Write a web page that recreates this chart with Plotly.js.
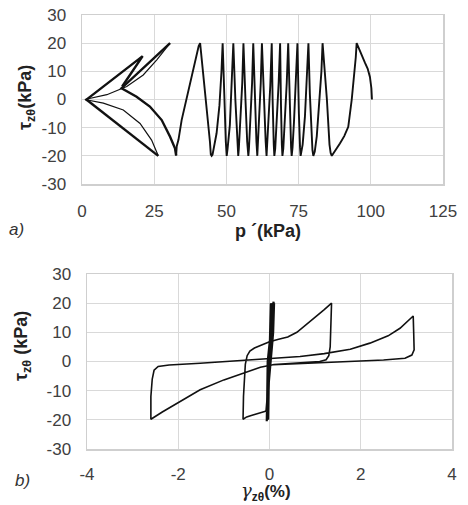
<!DOCTYPE html>
<html>
<head>
<meta charset="utf-8">
<script src="https://cdn.plot.ly/plotly-3.0.1.min.js"></script>
<style>html,body{margin:0;padding:0;background:#fff;}#chart{width:468px;height:505px;}</style>
</head>
<body>
<div id="chart"></div>
<script>
// ---------- Panel a) stress path: p' (kPa) vs tau_ztheta (kPa) ----------
// cyclic phase (p' decreasing cycle by cycle)
const cyclicP = [100.4,100.2,99.7,98.9,98.0,97.0,96.1,95.1,
  94.8,94.2,93.4,92.2,90.8,89.3,87.6,86.8,86.5,
  86.1,85.7,84.8,84.0,83.3,
  82.9,82.2,81.3,80.6,80.1,
  79.8,79.4,78.9,78.4,
  77.9,77.2,76.4,75.9,75.7,
  75.5,75.1,74.6,
  74.1,73.4,72.9,72.6,
  72.4,71.9,71.4,
  70.9,70.2,69.7,69.4,
  69.2,68.9,68.6,
  68.1,67.4,66.9,66.6,
  66.4,66.0,65.7,
  65.2,64.6,64.1,63.9,
  63.6,63.0,62.3,
  61.9,61.3,60.9,60.7,
  60.4,59.9,59.3,
  58.9,58.3,57.8,57.6,
  57.2,56.6,55.9,
  55.5,54.9,54.3,54.1,
  53.8,53.1,52.4,
  51.9,51.2,50.4,50.1,
  49.8,49.3,48.7,
  48.3,47.6,46.6,45.6,45.2,44.9,44.6,
  44.3,43.4,42.5,41.6,40.9,
  40.4,37.4,34.5,33.4,32.8,32.6];
const cyclicTau = [0,4,8,11,13,15.5,18,20,
  15,8,0,-9.7,-13,-15.6,-18.5,-19.6,-20,
  -19,-16,0,12,20,
  10,-2,-13,-18.5,-20,
  -18,-10,2,20,
  8,-6,-16,-19.3,-20,
  -17,-5,20,
  6,-8,-17,-20,
  -17,-2,20,
  6,-9,-17.5,-20,
  -16,-2,20,
  6,-9,-17.5,-20,
  -16,0,20,
  5,-9,-17.5,-20,
  -15,0,20,
  6,-9,-17.5,-20,
  -15,0,20,
  6,-9,-17.5,-20,
  -15,0,20,
  6,-9,-17.5,-20,
  -15,0,20,
  6,-9,-17.5,-20,
  -15,0,20,
  10,-2,-12,-18,-19.6,-20,-19.5,
  -15,-5,5,15,20,
  19,5.7,-7.3,-14.3,-16.6,-19.9];
// liquefaction phase: thick (load) segments, null separates strokes
const liqThickP = [32.6,32.2,30.5,27.6,23.5,18.9,13.7,22.0,30.5,null,
  1.5,26.4,null, 1.2,21.0,13.9];
const liqThickTau = [-19.9,-17.3,-13.2,-7.3,-2.5,1.0,4.0,12.0,20.0,null,
  0,-20,null, -0.3,15.4,4.6];
// liquefaction phase: thin (unload) curves
const liqThinP = [30.5,25.9,21.2,15.5,8.6,2.2,1.0,null,
  26.4,24.1,20.1,14.3,7.4,2.2,1.0];
const liqThinTau = [20,14.1,8.7,4.6,1.7,0.1,0,null,
  -20,-14.4,-8.5,-3.7,-1.3,-0.4,0];

// ---------- Panel b) gamma_ztheta (%) vs tau_ztheta (kPa) ----------
const smallGamma = [0.00,0.02,0.03,0.02,-0.02,-0.03,-0.02,0.02,0.05,0.03,-0.03,-0.05,-0.04,0.03,0.06,0.09,0.07,-0.02,-0.05,-0.06,-0.05,-0.04,0.00,0.04,0.10,0.08,0.00,-0.05,-0.07];
const smallTau   = [0,10,20,10,-10,-20,-10,10,20,8,-10,-20,-8,8,18,20.5,8,-8,-16,-20.5,-12,0,6,12,20,10,-6,-14,-17];
const loopGamma = [-0.07,-0.2,-0.3,-0.4,-0.5,-0.58,
  -0.57,-0.55,-0.53,-0.49,-0.43,-0.33,-0.2,0.0,0.2,0.4,0.6,0.8,1.0,1.2,1.36,
  1.35,1.33,1.3,1.24,1.1,0.8,0.4,0.1,
  -0.2,-0.57,-1.0,-1.52,-2.03,-2.35,-2.6,
  -2.6,-2.57,-2.53,-2.44,-2.2,-1.52,-0.43,0.08,0.67,1.2,1.77,2.2,2.6,2.86,3.15,
  3.16,3.17,3.12,2.97,2.5,1.77,1.2,0.67,0.08];
const loopTau = [-17,-17.5,-18,-18.5,-19,-19.8,
  -12,-5,-1,2,3.6,4.6,5.5,6.8,7.6,8.4,10,12.5,15,17.8,20,
  12,5,2,0.6,0,-0.3,-0.6,-1,
  -2,-4,-6.3,-9.7,-14.3,-17.3,-19.8,
  -12,-6,-3,-1.7,-1.2,-0.6,0.5,1.1,1.7,2.7,4.2,6.3,8.8,11.4,15.6,
  10,4,2.2,1.1,0.5,0,-0.3,-0.6,-1.1];

// ---------- axes ticks ----------
const tauTickVals = [-30,-20,-10,0,10,20,30];
const tauTickText = ['-30','-20','-10','0','10','20','30'];
const pTickVals = [0,25,50,75,100,125];
const pTickText = ['0','25','50','75','100','125'];
const gTickVals = [-4,-2,0,2,4];
const gTickText = ['-4','-2','0','2','4'];

const W = 468, H = 505;
const px = v => v / W, py = v => 1 - v / H;
const ink = '#111111';
const tickFont = {family: 'Liberation Sans, Arial, sans-serif', size: 17, color: '#404040'};
const gridC = '#d9d9d9';

function ax(extra) {
  return Object.assign({
    showgrid: true, gridcolor: gridC, gridwidth: 1,
    zeroline: false, showline: true, mirror: true, linecolor: '#cfcfcf', linewidth: 1.5,
    ticks: '', tickfont: tickFont, tickmode: 'array', ticklabelstandoff: 11,
    fixedrange: true
  }, extra);
}

const traces = [
  {x: cyclicP, y: cyclicTau, xaxis: 'x', yaxis: 'y', mode: 'lines', line: {color: ink, width: 1.9}},
  {x: liqThickP, y: liqThickTau, xaxis: 'x', yaxis: 'y', mode: 'lines', line: {color: ink, width: 2.4}},
  {x: liqThinP, y: liqThinTau, xaxis: 'x', yaxis: 'y', mode: 'lines', line: {color: ink, width: 1.2}},
  {x: smallGamma, y: smallTau, xaxis: 'x2', yaxis: 'y2', mode: 'lines', line: {color: ink, width: 2.2}},
  {x: loopGamma, y: loopTau, xaxis: 'x2', yaxis: 'y2', mode: 'lines', line: {color: ink, width: 1.6}}
];

const titleFont = {family: 'Liberation Sans, Arial, sans-serif', size: 18, color: '#222'};
const layout = {
  width: W, height: H, showlegend: false,
  margin: {l: 0, r: 0, t: 0, b: 0},
  paper_bgcolor: '#fff', plot_bgcolor: '#fff',
  xaxis: ax({domain: [px(82), px(443)], range: [0, 125], anchor: 'y', tickvals: pTickVals, ticktext: pTickText}),
  yaxis: ax({domain: [py(184), py(15)], range: [-30, 30], anchor: 'x', tickvals: tauTickVals, ticktext: tauTickText}),
  xaxis2: ax({domain: [px(87), px(452)], range: [-4, 4], anchor: 'y2', tickvals: gTickVals, ticktext: gTickText, ticklabelstandoff: 9}),
  yaxis2: ax({domain: [py(449), py(274)], range: [-30, 30], anchor: 'x2', tickvals: tauTickVals, ticktext: tauTickText}),
  annotations: [
    {xref: 'paper', yref: 'paper', x: px(268), y: py(231), text: '<b>p ´(kPa)</b>', showarrow: false, font: titleFont, xanchor: 'center', yanchor: 'middle'},
    {xref: 'paper', yref: 'paper', x: px(27), y: py(98), text: '<b>τ<sub>zθ</sub>(kPa)</b>', textangle: -90, showarrow: false, font: titleFont, xanchor: 'center', yanchor: 'middle'},
    {xref: 'paper', yref: 'paper', x: px(22), y: py(346), text: '<b>τ<sub>zθ</sub> (kPa)</b>', textangle: -90, showarrow: false, font: titleFont, xanchor: 'center', yanchor: 'middle'},
    {xref: 'paper', yref: 'paper', x: px(266), y: py(492), text: '<span style="font-family:DejaVu Serif;font-size:18px"><i>γ</i></span><b><sub>zθ</sub>(%)</b>', showarrow: false, font: {family: 'Liberation Sans, Arial, sans-serif', size: 17, color: '#222'}, xanchor: 'center', yanchor: 'middle'},
    {xref: 'paper', yref: 'paper', x: px(16), y: py(230), text: '<i>a)</i>', showarrow: false, font: {family: 'Liberation Sans, Arial, sans-serif', size: 17, color: '#333'}, xanchor: 'center', yanchor: 'middle'},
    {xref: 'paper', yref: 'paper', x: px(22), y: py(480), text: '<i>b)</i>', showarrow: false, font: {family: 'Liberation Sans, Arial, sans-serif', size: 17, color: '#333'}, xanchor: 'center', yanchor: 'middle'}
  ]
};

Plotly.newPlot('chart', traces, layout, {staticPlot: true, displayModeBar: false});
</script>
</body>
</html>
